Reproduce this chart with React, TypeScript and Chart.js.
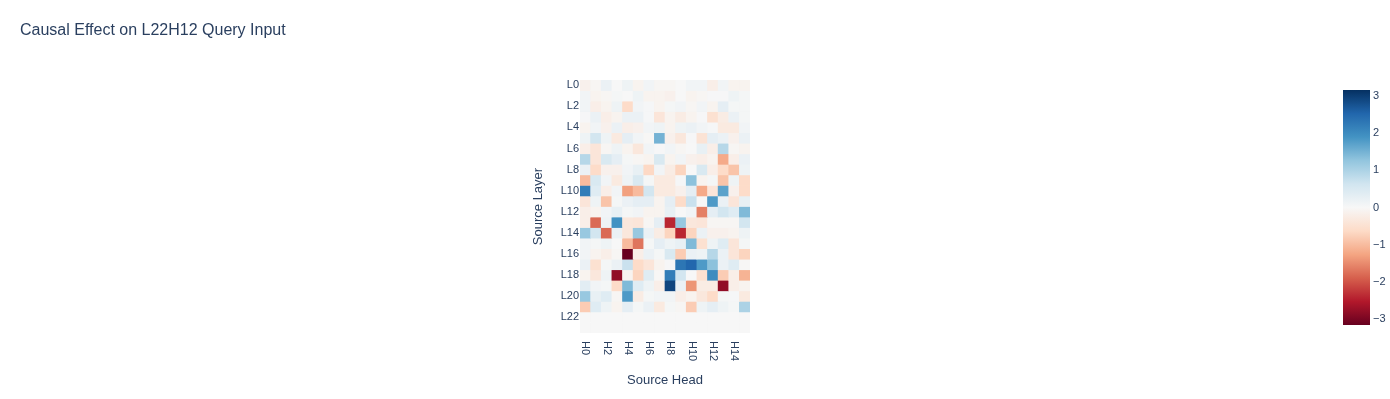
import React, { useEffect, useRef } from "react";
import { Chart, registerables } from "chart.js";

Chart.register(...registerables);

const chartTitle = "Causal Effect on L22H12 Query Input";
const xTitle = "Source Head";
const yTitle = "Source Layer";

const heads = ["H0","H1","H2","H3","H4","H5","H6","H7","H8","H9","H10","H11","H12","H13","H14","H15"];
const layers = ["L0","L1","L2","L3","L4","L5","L6","L7","L8","L9","L10","L11","L12","L13","L14","L15","L16","L17","L18","L19","L20","L21","L22","L23"];
const headTickIdx = [0, 2, 4, 6, 8, 10, 12, 14];
const layerTickIdx = [0, 2, 4, 6, 8, 10, 12, 14, 16, 18, 20, 22];
const colorbarTicks = [-3, -2, -1, 0, 1, 2, 3];

// rows = source layer, columns = source head
const cellValues = [
  [-0.15, -0.05, 0.2, 0, 0.15, -0.1, 0.1, -0.05, -0.05, 0, 0.1, 0.1, -0.2, 0.1, -0.1, -0.1],
  [0.1, -0.1, -0.05, 0.05, 0, 0.15, -0.1, -0.1, -0.15, 0, -0.1, -0.05, 0.02, 0.02, 0.15, 0.05],
  [0.1, -0.2, -0.1, 0.15, -0.6, 0.1, 0.03, -0.1, 0.05, 0.1, -0.05, 0.1, -0.1, 0.3, 0.05, 0.05],
  [0.02, 0.2, -0.2, -0.1, 0.2, 0.2, 0.03, -0.4, -0.1, -0.25, -0.1, 0.02, -0.5, -0.25, 0.2, 0.05],
  [-0.1, 0.1, -0.15, 0.2, -0.2, -0.15, 0.1, 0.15, -0.1, 0.15, 0.2, 0.1, 0.03, -0.3, -0.3, 0.1],
  [0.15, 0.6, 0.15, -0.3, 0.3, 0.1, -0.03, 1.5, -0.15, -0.35, 0.02, -0.45, 0.3, 0.2, -0.15, 0.2],
  [-0.2, -0.4, -0.05, 0.15, -0.1, -0.35, 0.1, 0.02, 0.1, -0.05, 0, 0.25, -0.2, 0.9, -0.05, -0.1],
  [0.9, -0.4, 0.5, 0.3, 0.05, -0.05, -0.1, 0.5, -0.1, 0.1, -0.15, -0.2, -0.1, -1.2, -0.2, 0.2],
  [0.2, -0.6, -0.15, -0.15, 0.1, 0.25, -0.65, 0.1, -0.25, -0.7, 0, 0.5, -0.2, -0.6, -0.9, 0.15],
  [-1.0, 0.5, 0.1, -0.3, 0.15, 0.5, 0.05, -0.3, -0.3, 0.03, 1.3, -0.1, 0.05, -0.9, 0.15, -0.6],
  [2.2, 0.4, -0.2, 0.1, -1.3, -1.0, 0.6, -0.3, -0.3, -0.15, 0.3, -1.2, -0.4, 1.7, -0.15, -0.6],
  [-0.4, 0.15, -0.9, 0.05, 0.2, 0.3, 0.3, -0.1, 0.3, -0.6, 0.7, 0, 1.8, 0.2, -0.4, 0.25],
  [-0.2, -0.1, 0.1, 0.25, 0.05, 0.1, -0.1, -0.1, 0.25, 0, 0.1, -1.6, 0.3, 0.6, 0.4, 1.4],
  [-0.2, -1.8, 0.15, 1.9, -0.35, -0.4, -0.05, 0.3, -2.4, 1.2, -0.35, -0.4, -0.05, -0.05, -0.05, 0.6],
  [1.2, 0.6, -1.8, 0.2, -0.35, 1.2, 0.2, -0.25, -0.7, -2.4, -0.7, 0.2, -0.15, -0.15, -0.1, 0.15],
  [0.1, 0.05, 0.15, 0, -1.0, -1.7, 0.05, 0.3, 0.15, 0.25, 1.4, -0.5, 0.15, 0.4, -0.4, 0.05],
  [0.1, -0.1, -0.2, -0.05, -3.15, -0.2, 0.2, 0.05, 0.5, -0.8, 0.2, 0.15, 0.9, 0.2, -0.4, -0.7],
  [0.2, -0.5, 0.05, 0.2, 0.7, -0.6, -0.4, -0.1, 0.02, 2.3, 2.5, 1.8, 1.3, 0.2, 0.4, -0.02],
  [-0.1, -0.35, 0.15, -2.8, -0.1, -0.7, 0.4, -0.02, 2.2, 0.6, 0, -0.5, 2.0, -0.8, -0.2, -1.1],
  [0.35, 0.1, 0.05, -0.6, 1.4, 0.4, 0.15, -0.2, 2.9, 0.2, -1.4, -0.25, -0.25, -2.8, -0.2, -0.1],
  [1.2, 0.25, 0.4, -0.05, 1.8, -0.25, 0.05, 0.1, 0.1, -0.2, -0.1, -0.35, -0.6, 0.05, 0.03, -0.3],
  [-0.8, 0.4, 0.15, -0.1, 0.3, 0.05, 0.2, -0.3, 0.05, -0.05, -0.8, 0.15, 0.3, 0.15, 0.05, 1.0],
  [0, 0, 0, 0, 0, 0, 0, 0, 0, 0, 0, 0, 0, 0, 0, 0],
  [0, 0, 0, 0, 0, 0, 0, 0, 0, 0, 0, 0, 0, 0, 0, 0],
];

const rdbu = [
  [103, 0, 31], [178, 24, 43], [214, 96, 77], [244, 165, 130], [253, 219, 199],
  [247, 247, 247], [209, 229, 240], [146, 197, 222], [67, 147, 195], [33, 102, 172], [5, 48, 97],
];

const FONT = '"Liberation Sans", Arial, sans-serif';
const TEXT = "#2a3f5f";

const zmax = Math.max(...cellValues.flat().map((v) => Math.abs(v)));

function colorFor(v: number, zm: number): string {
  let t = (v + zm) / (2 * zm);
  t = Math.max(0, Math.min(1, t));
  const pos = t * (rdbu.length - 1);
  const i = Math.min(Math.floor(pos), rdbu.length - 2);
  const f = pos - i;
  const a = rdbu[i], b = rdbu[i + 1];
  const c = a.map((x, k) => Math.round(x + (b[k] - x) * f));
  return `rgb(${c[0]},${c[1]},${c[2]})`;
}

function fmt(v: number): string {
  return v < 0 ? "\u2212" + Math.abs(v) : String(v);
}

const annotPlugin = {
  id: "annot",
  afterDraw(chart: any) {
    const ctx = chart.ctx;
    const xs = chart.scales.x;
    const area = chart.chartArea;
    ctx.save();
    ctx.fillStyle = TEXT;
    ctx.font = `16px ${FONT}`;
    ctx.textAlign = "left";
    ctx.textBaseline = "alphabetic";
    ctx.fillText(chartTitle, 20, 35);
    ctx.font = `11px ${FONT}`;
    ctx.textBaseline = "middle";
    headTickIdx.forEach((i) => {
      const x = xs.getPixelForValue(i);
      ctx.save();
      ctx.translate(x, area.bottom + 8);
      ctx.rotate(Math.PI / 2);
      ctx.fillText(heads[i], 0, 0);
      ctx.restore();
    });
    ctx.restore();
  },
};

export default function App() {
  const mainRef = useRef<HTMLCanvasElement>(null);
  const cbRef = useRef<HTMLCanvasElement>(null);

  useEffect(() => {
    const datasets = layers.map((name, i) => ({
      label: name,
      data: heads.map(() => [i, i + 1]),
      backgroundColor: cellValues[i].map((v) => colorFor(v, zmax)),
      borderWidth: 0,
      grouped: false,
      barPercentage: 1,
      categoryPercentage: 1,
    }));

    const main = new Chart(mainRef.current as HTMLCanvasElement, {
      type: "bar",
      data: { labels: heads, datasets: datasets as any },
      options: {
        animation: false,
        responsive: false,
        events: [],
        layout: { padding: { left: 531, right: 640, top: 80, bottom: 11 } },
        plugins: { legend: { display: false }, title: { display: false }, tooltip: { enabled: false } },
        scales: {
          x: {
            type: "category",
            grid: { display: false, drawTicks: false },
            border: { display: false },
            ticks: { display: false },
            title: {
              display: true,
              text: xTitle,
              color: TEXT,
              font: { family: FONT, size: 13 },
              padding: { top: 0, bottom: 0 },
            },
            afterFit: (s: any) => {
              s.height = 55;
            },
          },
          y: {
            type: "linear",
            min: 0,
            max: 24,
            reverse: true,
            grid: { display: false, drawTicks: false },
            border: { display: false },
            afterBuildTicks: (s: any) => {
              s.ticks = layerTickIdx.map((i) => ({ value: i + 0.5 }));
            },
            ticks: {
              autoSkip: false,
              padding: 1,
              color: TEXT,
              font: { family: FONT, size: 11 },
              callback: (v: any) => layers[Math.floor(Number(v))],
            },
            title: {
              display: true,
              text: yTitle,
              color: TEXT,
              font: { family: FONT, size: 13 },
              padding: { top: 0, bottom: 0 },
            },
            afterFit: (s: any) => {
              s.width = 49;
            },
          },
        },
      },
      plugins: [annotPlugin],
    });

    const cb = new Chart(cbRef.current as HTMLCanvasElement, {
      type: "bar",
      data: {
        labels: ["z"],
        datasets: [
          {
            data: [[-zmax, zmax]] as any,
            backgroundColor: (c: any) => {
              const a = c.chart.chartArea;
              if (!a) return "rgba(0,0,0,0)";
              const g = c.chart.ctx.createLinearGradient(0, a.bottom, 0, a.top);
              rdbu.forEach((col, k) => g.addColorStop(k / (rdbu.length - 1), `rgb(${col[0]},${col[1]},${col[2]})`));
              return g;
            },
            borderWidth: 0,
            barPercentage: 1,
            categoryPercentage: 1,
          } as any,
        ],
      },
      options: {
        animation: false,
        responsive: false,
        events: [],
        layout: { padding: { left: 13, right: 0, top: 90, bottom: 74 } },
        plugins: { legend: { display: false }, tooltip: { enabled: false } },
        scales: {
          x: { display: false },
          y: {
            position: "right",
            min: -zmax,
            max: zmax,
            grid: { display: false, drawTicks: false },
            border: { display: false },
            afterBuildTicks: (s: any) => {
              s.ticks = colorbarTicks.map((v) => ({ value: v }));
            },
            ticks: {
              autoSkip: false,
              padding: 3,
              color: TEXT,
              font: { family: FONT, size: 11 },
              callback: (v: any) => fmt(Number(v)),
            },
            afterFit: (s: any) => {
              s.width = 20;
            },
          },
        },
      },
    });

    return () => {
      main.destroy();
      cb.destroy();
    };
  }, []);

  return (
    <div style={{ position: "absolute", left: 0, top: 0, width: 1390, height: 399, background: "#fff" }}>
      <canvas ref={mainRef} width={1390} height={399} style={{ position: "absolute", left: 0, top: 0 }} />
      <canvas ref={cbRef} width={60} height={399} style={{ position: "absolute", left: 1330, top: 0 }} />
    </div>
  );
}
